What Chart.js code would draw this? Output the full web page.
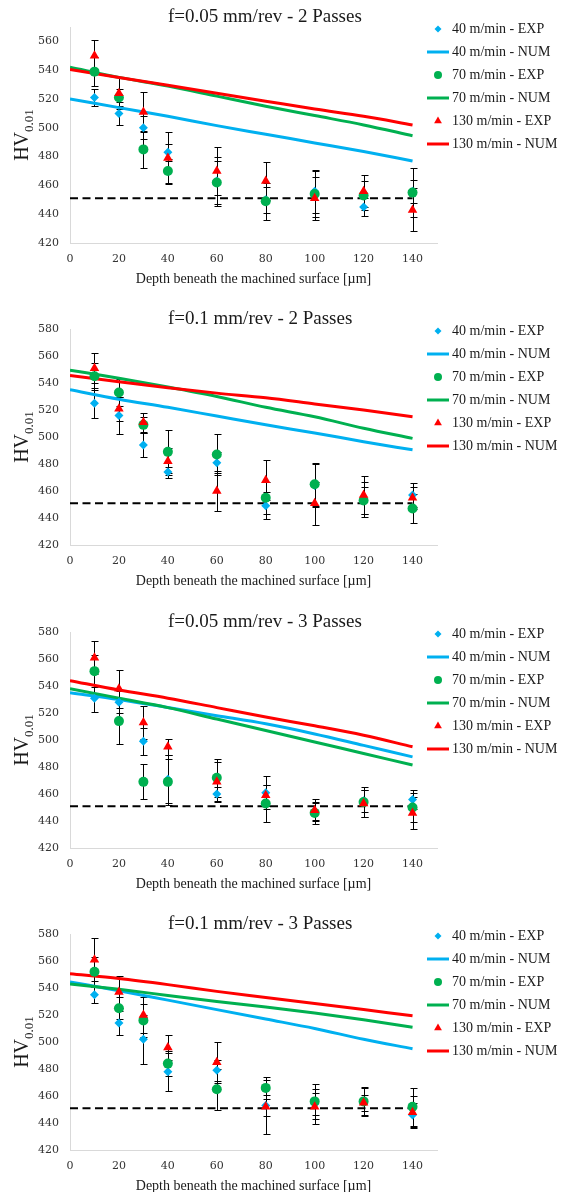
<!DOCTYPE html>
<html>
<head>
<meta charset="utf-8">
<script src="https://cdn.jsdelivr.net/npm/chart.js@4.4.1/dist/chart.umd.min.js"></script>
<style>
  body { margin: 0; background: #fff; width: 570px; height: 1192px; position: relative; overflow: hidden; }
  canvas { position: absolute; left: 0; }
</style>
</head>
<body>
<canvas id="c1" width="570" height="292" style="top:0px"></canvas>
<canvas id="c2" width="570" height="292" style="top:300px"></canvas>
<canvas id="c3" width="570" height="292" style="top:600px"></canvas>
<canvas id="c4" width="570" height="292" style="top:900px"></canvas>
<script>
// depths (µm)
const depthExp = [10, 20, 30, 40, 60, 80, 100, 120, 140];
const depthNum = [0, 20, 40, 60, 80, 100, 120, 140];
const baseDepth = [0, 140];
const baseHV = 451;
const xTicks = [0, 20, 40, 60, 80, 100, 120, 140];
const yTicksA = [420, 440, 460, 480, 500, 520, 540, 560];
const yTicksB = [420, 440, 460, 480, 500, 520, 540, 560, 580];
const seriesNames = ['40 m/min', '70 m/min', '130 m/min'];

// f=0.05 mm/rev - 2 Passes
const exp40_1 = [521, 510, 500, 483, 463, 450, 456, 445, 456];
const err40_1 = [6, 8, 8, 6, 17, 9, 15, 6, 8];
const exp70_1 = [539, 521, 485, 470, 462, 449, 454, 453, 455];
const err70_1 = [10, 6, 13, 8, 15, 13, 16, 10, 17];
const exp130_1 = [550, 524, 511, 479, 470, 463, 451, 456, 443];
const err130_1 = [11, 11, 14, 18, 17, 13, 15, 11, 15];
const num40_1 = [520, 514, 508, 501.5, 495.5, 489.5, 483.5, 477];
const num70_1 = [542, 535, 529, 522, 515, 508.5, 502, 494.5];
const num130_1 = [540.5, 535, 529.5, 524, 518.5, 513, 508, 502];

// f=0.1 mm/rev - 2 Passes
const exp40_2 = [525, 516, 494, 474, 481, 449, 464, 454, 457];
const err40_2 = [11, 14, 9, 4, 8, 10, 16, 13, 9];
const exp70_2 = [545, 533, 509, 489, 487, 455, 465, 453, 447];
const err70_2 = [10, 10, 6, 16, 15, 12, 16, 10, 11];
const exp130_2 = [551, 521, 511, 482, 460, 468, 451, 457, 455];
const err130_2 = [11, 9, 7, 10, 15, 15, 16, 14, 8];
const num40_2 = [535, 528, 522, 515.5, 509, 503, 496.5, 490.5];
const num70_2 = [549.5, 543.5, 537, 530, 522, 515, 506.5, 499];
const num130_2 = [545.5, 541, 536.5, 532.5, 529, 524.5, 520, 515];

// f=0.05 mm/rev - 3 Passes
const exp40_3 = [531, 528, 499, 471, 460, 461, 447, 455, 456];
const err40_3 = [10, 8, 10, 18, 5, 12, 6, 8, 7];
const exp70_3 = [551, 514, 469, 469, 472, 453, 446, 454, 450];
const err70_3 = [12, 17, 13, 17, 14, 14, 8, 11, 11];
const exp130_3 = [561, 538, 513, 495, 469, 459, 448, 453, 446];
const err130_3 = [12, 14, 12, 6, 15, 8, 8, 10, 12];
const num40_3 = [535, 530, 524, 518, 512, 504.5, 496, 487.5];
const num70_3 = [538, 531, 524, 515.5, 507, 498.5, 490, 481.5];
const num130_3 = [544, 537, 531, 524, 517, 510.5, 503.5, 495];

// f=0.1 mm/rev - 3 Passes
const exp40_4 = [535, 514, 502, 478, 479, 453, 454, 456, 446];
const err40_4 = [6, 9, 18, 14, 8, 8, 8, 11, 9];
const exp70_4 = [552, 525, 516, 484, 465, 466, 456, 456, 452];
const err70_4 = [11, 8, 12, 9, 15, 8, 13, 10, 14];
const exp130_4 = [561, 537, 520, 496, 485, 452, 452, 455, 448];
const err130_4 = [16, 12, 13, 9, 15, 20, 13, 6, 12];
const num40_4 = [544.5, 538, 531, 524, 517, 510, 502, 495];
const num70_4 = [543, 539, 534.5, 530, 526, 521.5, 516.5, 511];
const num130_4 = [550.5, 547, 542.5, 537.5, 533, 528.5, 524, 519.5];

const BLUE = '#00b0f0', GREEN = '#00b050', RED = '#ff0000';
const SERIF = '"Liberation Serif", "DejaVu Serif", serif';

function pts(xs, ys) {
  return xs.map((x, i) => ({ x: x, y: ys[i] }));
}

// error bars, titles, legend
const deco = {
  id: 'deco',
  beforeDatasetsDraw(chart) {
    const ctx = chart.ctx, xs = chart.scales.x, ys = chart.scales.y;
    ctx.save();
    ctx.strokeStyle = '#000';
    ctx.lineWidth = 1;
    chart.data.datasets.forEach(ds => {
      if (!ds.errorBars) return;
      ds.data.forEach((p, i) => {
        const e = ds.errorBars[i];
        const px = Math.round(xs.getPixelForValue(p.x)) + 0.5;
        const t = Math.round(ys.getPixelForValue(p.y + e)) + 0.5;
        const b = Math.round(ys.getPixelForValue(p.y - e)) + 0.5;
        ctx.beginPath();
        ctx.moveTo(px, t); ctx.lineTo(px, b);
        ctx.moveTo(px - 3, t); ctx.lineTo(px + 4, t);
        ctx.moveTo(px - 3, b); ctx.lineTo(px + 4, b);
        ctx.stroke();
      });
    });
    ctx.restore();
  },
  afterDraw(chart, args, opts) {
    const ctx = chart.ctx, area = chart.chartArea;
    ctx.save();
    ctx.fillStyle = '#1a1a1a';
    ctx.textBaseline = 'middle';

    // chart title
    ctx.font = '19px ' + SERIF;
    ctx.textAlign = 'left';
    ctx.fillText(opts.title, 168, area.top - 10);

    // x axis title
    ctx.font = '14px ' + SERIF;
    ctx.textAlign = 'center';
    ctx.fillText('Depth beneath the machined surface [µm]', (area.left + area.right) / 2, area.bottom + 36);

    // y axis title HV with subscript
    ctx.save();
    ctx.translate(28, (area.top + area.bottom) / 2);
    ctx.rotate(-Math.PI / 2);
    ctx.textBaseline = 'alphabetic';
    ctx.textAlign = 'left';
    ctx.font = '20px ' + SERIF;
    const wMain = ctx.measureText('HV').width;
    ctx.font = '13px ' + SERIF;
    const wSub = ctx.measureText('0.01').width;
    const x0 = -(wMain + wSub) / 2;
    ctx.font = '20px ' + SERIF;
    ctx.fillText('HV', x0, 0);
    ctx.font = '13px ' + SERIF;
    ctx.fillText('0.01', x0 + wMain, 5);
    ctx.restore();

    // legend
    let row = 0;
    chart.data.datasets.forEach(ds => {
      if (!ds.label) return;
      const y = area.top + 2 + row * 23;
      if (ds.showLine) {
        ctx.strokeStyle = ds.borderColor;
        ctx.lineWidth = 3;
        ctx.beginPath();
        ctx.moveTo(427, y);
        ctx.lineTo(449, y);
        ctx.stroke();
      } else {
        ctx.fillStyle = ds.backgroundColor;
        Chart.helpers.drawPoint(ctx, {
          pointStyle: ds.pointStyle,
          radius: ds.legendRadius,
          rotation: 0,
          borderWidth: 0
        }, 438, y);
      }
      ctx.fillStyle = '#1a1a1a';
      ctx.font = '14px ' + SERIF;
      ctx.textAlign = 'left';
      ctx.textBaseline = 'middle';
      ctx.fillText(ds.label, 452, y);
      row++;
    });
    ctx.restore();
  }
};

function makeChart(id, title, yMax, yTicks, padTop, exp, err, num) {
  const styles = [
    { color: BLUE, shape: 'rectRot', r: 4.5, lr: 3.5 },
    { color: GREEN, shape: 'circle', r: 5, lr: 4 },
    { color: RED, shape: 'triangle', r: 5.5, lr: 4.5 }
  ];
  const datasets = [];
  styles.forEach((s, k) => {
    datasets.push({
      label: seriesNames[k] + ' - EXP',
      data: pts(depthExp, exp[k]),
      errorBars: err[k],
      showLine: false,
      pointStyle: s.shape,
      pointRadius: s.r,
      legendRadius: s.lr,
      backgroundColor: s.color,
      borderColor: s.color,
      borderWidth: 0,
      order: 3 - k
    });
    datasets.push({
      label: seriesNames[k] + ' - NUM',
      data: pts(depthNum, num[k]),
      showLine: true,
      pointRadius: 0,
      borderColor: s.color,
      backgroundColor: s.color,
      borderWidth: 3,
      cubicInterpolationMode: 'monotone',
      order: 6 - k
    });
  });
  datasets.push({
    data: pts(baseDepth, [baseHV, baseHV]),
    showLine: true,
    pointRadius: 0,
    borderColor: '#000',
    borderWidth: 2,
    borderDash: [8, 4.5],
    order: 7
  });

  const tickFont = { family: '"DejaVu Serif", serif', size: 11 };
  return new Chart(document.getElementById(id), {
    type: 'scatter',
    data: { datasets: datasets },
    options: {
      responsive: false,
      animation: false,
      layout: { padding: { top: padTop, right: 133, left: 0, bottom: 0 } },
      plugins: {
        legend: { display: false },
        tooltip: { enabled: false },
        deco: { title: title }
      },
      scales: {
        x: {
          type: 'linear',
          min: 0,
          max: 150,
          afterBuildTicks: s => { s.ticks = xTicks.map(v => ({ value: v })); },
          afterFit: s => { s.height = 292 - padTop - 216; },
          grid: { display: false, drawTicks: false },
          border: { display: true, color: '#d9d9d9', width: 1 },
          ticks: { padding: 10, font: tickFont, color: '#333' }
        },
        y: {
          type: 'linear',
          min: 420,
          max: yMax,
          afterBuildTicks: s => { s.ticks = yTicks.map(v => ({ value: v })); },
          afterFit: s => { s.width = 70; },
          grid: { display: false, drawTicks: false },
          border: { display: true, color: '#d9d9d9', width: 1 },
          ticks: { padding: 11, font: tickFont, color: '#333' }
        }
      }
    },
    plugins: [deco]
  });
}

makeChart('c1', 'f=0.05 mm/rev - 2 Passes', 570, yTicksA, 27,
  [exp40_1, exp70_1, exp130_1], [err40_1, err70_1, err130_1], [num40_1, num70_1, num130_1]);
makeChart('c2', 'f=0.1 mm/rev - 2 Passes', 580, yTicksB, 29,
  [exp40_2, exp70_2, exp130_2], [err40_2, err70_2, err130_2], [num40_2, num70_2, num130_2]);
makeChart('c3', 'f=0.05 mm/rev - 3 Passes', 580, yTicksB, 32,
  [exp40_3, exp70_3, exp130_3], [err40_3, err70_3, err130_3], [num40_3, num70_3, num130_3]);
makeChart('c4', 'f=0.1 mm/rev - 3 Passes', 580, yTicksB, 34,
  [exp40_4, exp70_4, exp130_4], [err40_4, err70_4, err130_4], [num40_4, num70_4, num130_4]);
</script>
</body>
</html>
